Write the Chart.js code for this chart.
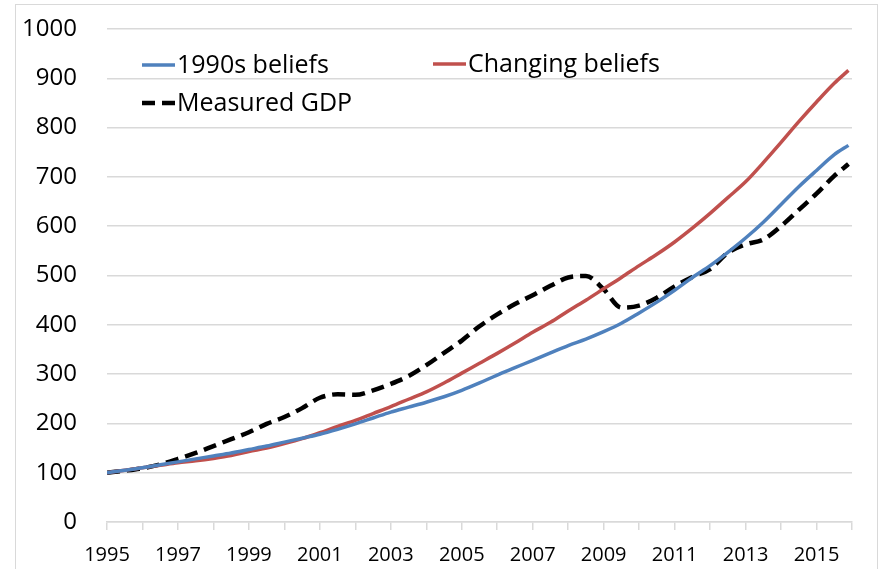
<!DOCTYPE html>
<html>
<head>
<meta charset="utf-8">
<script src="https://cdn.jsdelivr.net/npm/chart.js@4"></script>
<style>
  html, body { margin: 0; padding: 0; background: #fff; }
  #wrap { width: 885px; height: 569px; position: relative; }
</style>
</head>
<body>
<div id="wrap"><canvas id="c"></canvas></div>
<script>
const years = [1995, 1995.5, 1996, 1996.5, 1997, 1997.5, 1998, 1998.5, 1999, 1999.5,
  2000, 2000.5, 2001, 2001.5, 2002, 2002.5, 2003, 2003.5, 2004, 2004.5,
  2005, 2005.5, 2006, 2006.5, 2007, 2007.5, 2008, 2008.5, 2009, 2009.5,
  2010, 2010.5, 2011, 2011.5, 2012, 2012.5, 2013, 2013.5, 2014, 2014.5,
  2015, 2015.5, 2015.9];

const beliefs1990s = [100, 105, 110, 116, 122, 128, 134, 140, 147, 154,
  162, 170, 178, 188, 199, 211, 223, 233, 243, 254,
  267, 282, 298, 313, 328, 343, 358, 371, 386, 403,
  424, 446, 470, 496, 520, 547, 576, 608, 644, 680,
  713, 745, 764];

const changingBeliefs = [100, 105, 110, 115, 120, 124, 129, 135, 143, 150,
  159, 169, 181, 194, 206, 220, 234, 249, 264, 282,
  302, 322, 342, 363, 385, 405, 428, 450, 473, 496,
  520, 543, 568, 596, 626, 658, 690, 729, 770, 812,
  852, 890, 916];

const measuredGDP = [100, 104, 109, 117, 128, 140, 154, 168, 182, 199,
  213, 231, 252, 259, 258, 267, 280, 296, 318, 343,
  368, 397, 421, 442, 460, 479, 496, 499, 472, 435,
  439, 455, 478, 497, 513, 546, 563, 573, 600, 633,
  666, 702, 726];

const seriesLabels = ['1990s beliefs', 'Changing beliefs', 'Measured GDP'];
const labelYears = [1995, 1997, 1999, 2001, 2003, 2005, 2007, 2009, 2011, 2013, 2015];

const FONT = '"Open Sans", "DejaVu Sans", sans-serif';

function pts(vals) { return vals.map((v, i) => ({ x: years[i], y: v })); }

const framePlugin = {
  id: 'frame',
  beforeDraw(chart) {
    const ctx = chart.ctx;
    ctx.save();
    ctx.fillStyle = '#ffffff';
    ctx.fillRect(0, 0, chart.width, chart.height);
    ctx.strokeStyle = '#d9d9d9';
    ctx.lineWidth = 1;
    ctx.strokeRect(15.5, 4.5, 862, 620);
    ctx.restore();
  }
};

const legendPlugin = {
  id: 'customLegend',
  afterDraw(chart) {
    const ctx = chart.ctx;
    const places = [[142, 65], [433, 64], [142, 103]];
    ctx.save();
    chart.data.datasets.forEach((ds, i) => {
      const [x, y] = places[i];
      ctx.beginPath();
      ctx.strokeStyle = ds.borderColor;
      ctx.lineWidth = ds.borderWidth;
      ctx.setLineDash(ds.borderDash || []);
      ctx.moveTo(x, y);
      ctx.lineTo(x + 33, y);
      ctx.stroke();
      ctx.setLineDash([]);
      ctx.fillStyle = '#000';
      ctx.font = '25px ' + FONT;
      ctx.textAlign = 'left';
      ctx.textBaseline = 'middle';
      ctx.fillText(ds.label, x + 35, y + 1);
    });
    ctx.restore();
  }
};

new Chart(document.getElementById('c'), {
  type: 'line',
  data: {
    datasets: [
      { label: seriesLabels[0], data: pts(beliefs1990s), borderColor: '#4f81bd', borderWidth: 3.5 },
      { label: seriesLabels[1], data: pts(changingBeliefs), borderColor: '#c0504d', borderWidth: 3.5 },
      { label: seriesLabels[2], data: pts(measuredGDP), borderColor: '#000000', borderWidth: 4.5, borderDash: [13, 7] }
    ]
  },
  options: {
    responsive: true,
    maintainAspectRatio: false,
    animation: false,
    layout: { padding: { top: 29, right: 33, bottom: 0, left: 0 } },
    elements: {
      point: { radius: 0 },
      line: { cubicInterpolationMode: 'monotone', fill: false }
    },
    plugins: { legend: { display: false }, tooltip: { enabled: false } },
    scales: {
      x: {
        type: 'linear',
        min: 1995,
        max: 2016,
        afterFit(scale) { scale.height = 47; },
        border: { display: true, color: '#d9d9d9', width: 1.5 },
        grid: { drawOnChartArea: false, drawTicks: true, tickLength: 8, color: '#d9d9d9', lineWidth: 1.5 },
        ticks: {
          stepSize: 1,
          autoSkip: false,
          maxRotation: 0,
          padding: 13,
          color: '#000',
          font: { family: FONT, size: 20 },
          callback(v) { return labelYears.includes(v) ? String(v) : ''; }
        }
      },
      y: {
        min: 0,
        max: 1000,
        afterFit(scale) { scale.width = 107; },
        border: { display: false },
        grid: { drawTicks: true, tickLength: 22, tickColor: 'rgba(0,0,0,0)', color: '#d9d9d9', lineWidth: 1.5 },
        ticks: {
          stepSize: 100,
          padding: 8,
          color: '#000',
          font: { family: FONT, size: 24 },
          callback(v) { return String(v); }
        }
      }
    }
  },
  plugins: [framePlugin, legendPlugin]
});
</script>
</body>
</html>
